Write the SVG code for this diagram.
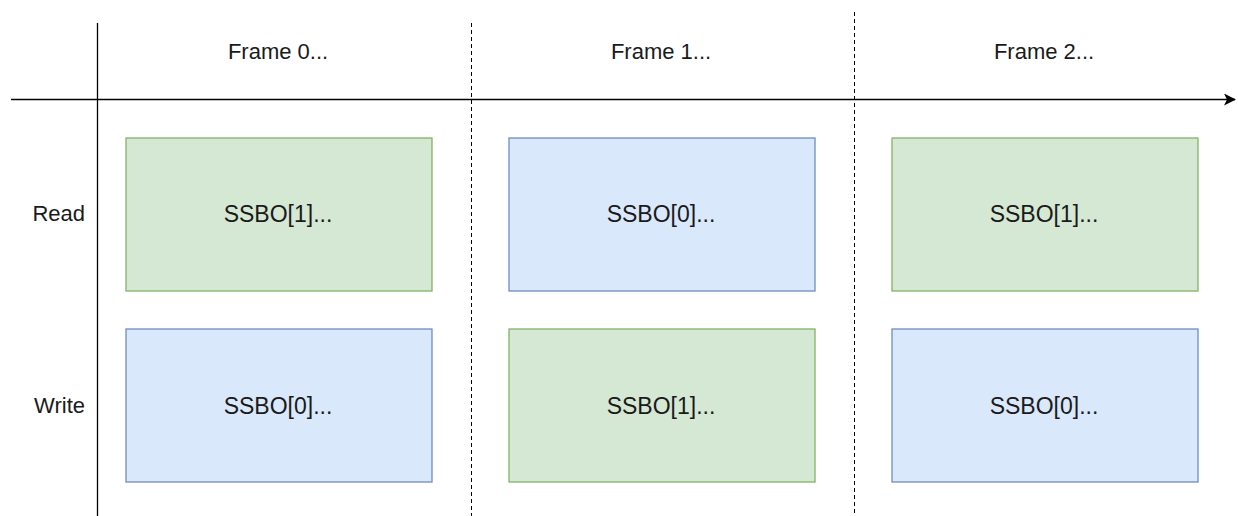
<svg xmlns="http://www.w3.org/2000/svg" width="1238" height="516" viewBox="0 0 1238 516">
<defs>
<style>
.t{font-family:"Liberation Sans",Arial,sans-serif;font-size:22px;fill:#1a1a1a}
.s{font-size:23px}
.g{fill:#d5e8d4;stroke:#82b366;stroke-width:1.3}
.b{fill:#dae8fc;stroke:#6c8ebf;stroke-width:1.3}
.ax{stroke:#000;stroke-width:1.3;fill:none}
.d{stroke:#000;stroke-width:1;stroke-dasharray:4 3;fill:none}
</style>
<marker id="ah" viewBox="0 0 12 12" refX="11" refY="6" markerWidth="12" markerHeight="12" markerUnits="userSpaceOnUse" orient="auto">
<path d="M0,0 L12,6 L0,12 L3,6 Z" fill="#000"/>
</marker>
</defs>
<rect width="1238" height="516" fill="#fff"/>
<g id="connectors">
<line class="ax" x1="97.5" y1="23" x2="97.5" y2="516"/>
<line class="ax" x1="11" y1="99.5" x2="1235" y2="99.5" marker-end="url(#ah)"/>
<line class="d" x1="471.5" y1="23" x2="471.5" y2="516"/>
<line class="d" x1="854.5" y1="12" x2="854.5" y2="516"/>
</g>
<g id="labels">
<text class="t" x="278" y="59" text-anchor="middle">Frame 0...</text>
<text class="t" x="661" y="59" text-anchor="middle">Frame 1...</text>
<text class="t" x="1044" y="59" text-anchor="middle">Frame 2...</text>
<text class="t" x="85" y="221" text-anchor="end">Read</text>
<text class="t" x="85" y="413" text-anchor="end">Write</text>
</g>
<g id="r0c0"><rect class="g" x="126" y="138" width="306" height="153"/><text class="t s" x="278" y="222" text-anchor="middle">SSBO[1]...</text></g>
<g id="r0c1"><rect class="b" x="509" y="138" width="306" height="153"/><text class="t s" x="661" y="222" text-anchor="middle">SSBO[0]...</text></g>
<g id="r0c2"><rect class="g" x="892" y="138" width="306" height="153"/><text class="t s" x="1044" y="222" text-anchor="middle">SSBO[1]...</text></g>
<g id="r1c0"><rect class="b" x="126" y="329" width="306" height="153"/><text class="t s" x="278" y="414" text-anchor="middle">SSBO[0]...</text></g>
<g id="r1c1"><rect class="g" x="509" y="329" width="306" height="153"/><text class="t s" x="661" y="414" text-anchor="middle">SSBO[1]...</text></g>
<g id="r1c2"><rect class="b" x="892" y="329" width="306" height="153"/><text class="t s" x="1044" y="414" text-anchor="middle">SSBO[0]...</text></g>
</svg>
